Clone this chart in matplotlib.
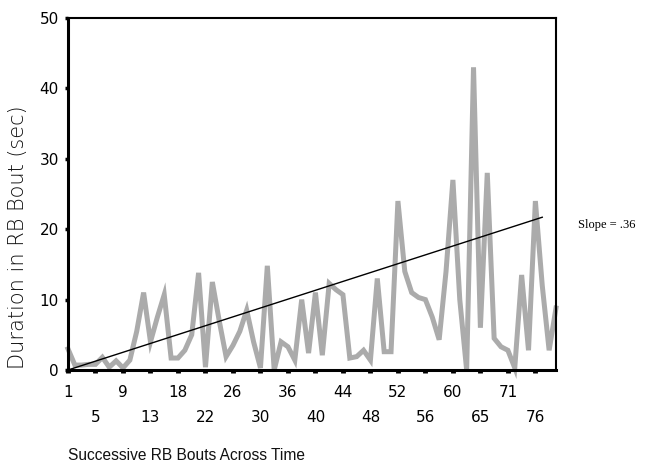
import numpy as np
import matplotlib
matplotlib.use('Agg')
import matplotlib.pyplot as plt

# Duration of each successive RB bout (sec)
durations = [3, 0.7, 0.7, 0.8, 0.8, 1.8, 0.4, 1.3, 0.3, 1.4,
             5.5, 11, 4, 7.5, 10.7, 1.7, 1.7, 2.8, 5, 13.8,
             0.4, 12.5, 7, 1.9, 3.5, 5.5, 8.5, 4, 0.3, 14.8,
             0, 4, 3.3, 1.4, 10, 2.4, 11, 2.1, 12.3, 11.4,
             10.7, 1.7, 1.9, 2.8, 1.4, 13, 2.6, 2.6, 24, 14,
             11, 10.3, 10, 7.5, 4.3, 14, 27, 10, 0, 43,
             6, 28, 4.5, 3.3, 2.8, 0.3, 13.5, 2.8, 24, 12,
             2.8, 8.8]
bouts = np.arange(1, len(durations) + 1)

# fitted trend line (end points)
trend_x = [1, 70]
trend_y = [0, 21.7]

tick_labels = ['1', '5', '9', '13', '18', '22', '26', '30', '36',
               '40', '44', '48', '52', '56', '60', '65', '71', '76']
y_ticks = [0, 10, 20, 30, 40, 50]

fig = plt.figure(figsize=(6.47, 4.66), dpi=100)
ax = fig.add_axes([68 / 647, 1 - 370 / 466, (556 - 68) / 647, (370 - 18) / 466])

ax.plot(bouts, durations, color='#ababab', lw=3.6, solid_joinstyle='miter',
        clip_on=False, zorder=2)
ax.plot(trend_x, trend_y, color='black', lw=1.0, zorder=3)

ax.set_xlim(1, len(durations))
ax.set_ylim(0, 50)

# ticks: every 4 bouts, labels alternate on two rows
pos = np.arange(1, 1 + 4 * len(tick_labels), 4)
ax.set_xticks(pos[::2])
ax.set_xticklabels(tick_labels[::2])
ax.set_xticks(pos[1::2], minor=True)
ax.set_xticklabels(tick_labels[1::2], minor=True)
ax.tick_params(axis='x', which='both', direction='out', length=2.5, width=3.5,
               labelsize=11)
ax.tick_params(axis='x', which='major', pad=8)
ax.tick_params(axis='x', which='minor', pad=26)

ax.set_yticks(y_ticks)
ax.tick_params(axis='y', direction='out', length=2.5, width=2.5, labelsize=11, pad=4)

for side in ['top', 'right']:
    ax.spines[side].set_linewidth(1.5)
for side in ['bottom', 'left']:
    ax.spines[side].set_linewidth(2.2)

fig.text(18 / 647, 1 - 237 / 466, 'Duration in RB Bout (sec)', rotation=90,
         ha='center', va='center', fontsize=15, fontweight='light',
         color='#111111')
fig.text(68 / 647, 1 - 455 / 466, 'Successive RB Bouts Across Time',
         family='Liberation Sans', ha='left', va='center', fontsize=11.2,
         color='#111111')
fig.text(578 / 647, 1 - 225 / 466, 'Slope = .36', family='Liberation Serif',
         ha='left', va='center', fontsize=9)

fig.savefig('out.png', dpi=100)
